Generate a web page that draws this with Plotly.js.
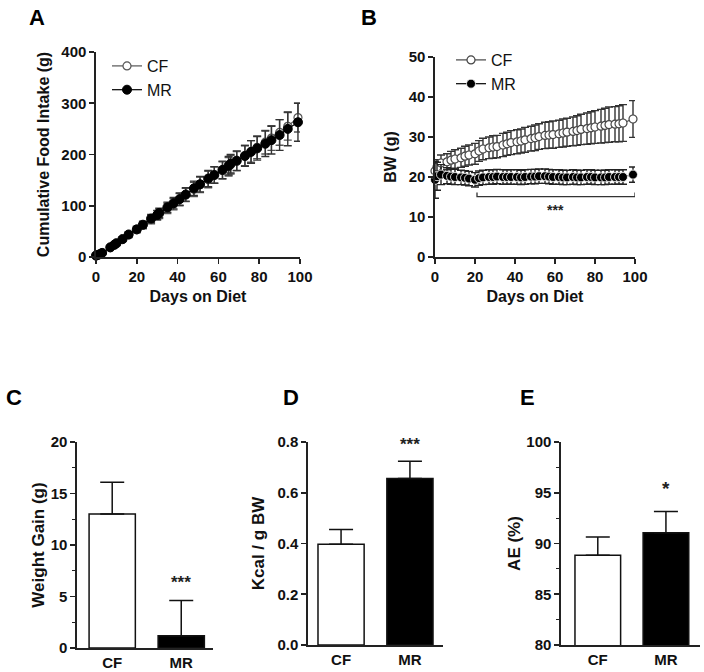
<!DOCTYPE html>
<html>
<head>
<meta charset="utf-8">
<script src="https://cdn.plot.ly/plotly-3.0.1.min.js"></script>
<style>html,body{margin:0;padding:0;background:#fff;}#chart{width:704px;height:672px;}</style>
</head>
<body>
<div id="chart"></div>
<script>
// ---------- Panel A: cumulative food intake ----------
const daysA = [0,1,2,3,7,9,10,13,16,20,23,27,30,31,35,38,41,44,48,51,55,58,62,65,66,69,73,76,79,83,86,90,94,99];
const intakeCF = [2,4,5,8,18,23,26,34,43,53,62,73,81,84,95,103,112,121,132,141,151,160,169,176,180,187,198,206,214,224,232,243,255,272];
const intakeCFsd = [1,1,1,2,3,3,4,4,5,6,7,8,9,9,10,11,12,13,14,15,16,16,17,18,18,19,20,21,22,23,24,25,27,28];
const intakeMR = [3,4,6,8,19,24,27,35,44,54,63,75,82,86,97,105,113,122,134,142,153,160,170,178,182,188,197,205,212,221,228,238,250,263];
const intakeMRsd = [1,1,1,2,3,3,4,4,5,6,7,8,9,9,10,11,12,13,14,15,16,16,17,18,18,19,20,22,23,25,27,30,33,37];

// ---------- Panel B: body weight ----------
const daysB = [0,1,3,6,8,10,13,15,17,20,22,24,27,29,31,34,36,38,41,43,45,48,50,52,55,57,59,62,64,66,69,71,73,76,78,80,83,85,87,90,92,94,99];
const bwCF = [21.5,22.5,23.5,23.8,24.2,24.5,24.8,25.2,25.5,25.8,26.5,27.0,27.3,27.5,27.6,28.0,28.3,28.6,28.8,29.0,29.3,29.6,29.8,30.1,30.4,30.5,30.6,30.8,31.0,31.2,31.4,31.6,31.9,32.1,32.3,32.5,32.7,32.9,33.1,33.2,33.3,33.5,34.5];
const bwCFsd = [1.5,1.8,2.0,2.0,2.2,2.3,2.4,2.5,2.5,2.6,2.6,2.7,2.7,2.8,2.8,2.9,2.9,3.0,3.0,3.0,3.1,3.1,3.2,3.2,3.3,3.3,3.4,3.4,3.5,3.5,3.6,3.7,3.8,3.9,4.0,4.1,4.2,4.3,4.4,4.4,4.5,4.6,4.6];
const bwMR = [19.3,20.2,20.6,20.3,20.1,20.0,19.9,19.8,19.6,19.3,19.7,19.9,20.0,20.0,20.1,20.0,20.0,20.0,20.0,19.9,20.0,20.1,20.1,20.2,20.2,20.1,20.0,20.0,19.9,19.9,20.0,19.9,19.9,20.0,20.0,19.9,19.9,19.9,20.0,20.0,20.0,20.0,20.6];
const bwMRsd = [4.6,3.5,2.5,2.0,1.9,1.9,1.8,1.8,1.8,1.8,1.8,1.8,1.8,1.8,1.8,1.8,1.8,1.8,1.8,1.8,1.8,1.8,1.8,1.8,1.8,1.8,1.8,1.8,1.8,1.8,1.8,1.8,1.8,1.8,1.8,1.8,1.8,1.8,1.8,1.8,1.8,1.8,1.9];

// ---------- Panels C-E: bars ----------
const groups = ['CF', 'MR'];
const weightGain = [13.0, 1.2];
const weightGainSem = [3.1, 3.4];
const kcalPerBW = [0.397, 0.656];
const kcalPerBWSem = [0.058, 0.068];
const absorptionEff = [88.85, 91.05];
const absorptionEffSem = [1.8, 2.1];

// ---------- helpers ----------
const FONT = 'Arial, "Liberation Sans", Helvetica, sans-serif';
const W = 704, H = 672;
const dx = (a, b) => [a / W, b / W];
const dy = (top, bottom) => [1 - bottom / H, 1 - top / H];
const AXC = '#222';

function axisBase(extra) {
  return Object.assign({
    showline: true, linecolor: AXC, linewidth: 1.6,
    ticks: 'outside', ticklen: 5, tickwidth: 1.6, tickcolor: AXC,
    showgrid: false, zeroline: false,
    tickfont: {family: FONT, size: 15, color: '#111', weight: 'bold'},
    fixedrange: true
  }, extra);
}
function axTitle(t, size, standoff) {
  return {text: t, font: {family: FONT, size: size, color: '#111', weight: 'bold'}, standoff: standoff};
}
function errBar(arr, color) {
  return {type: 'data', array: arr, visible: true, color: color, thickness: 1.4, width: 4};
}

const traces = [
  {x: daysA, y: intakeCF, xaxis: 'x', yaxis: 'y', name: 'CF', legend: 'legend',
   mode: 'lines+markers', line: {color: '#555', width: 1.2},
   marker: {symbol: 'circle', size: 8, color: '#fff', line: {color: '#555', width: 1.2}},
   error_y: errBar(intakeCFsd, '#555'), cliponaxis: false},
  {x: daysA, y: intakeMR, xaxis: 'x', yaxis: 'y', name: 'MR', legend: 'legend',
   mode: 'lines+markers', line: {color: '#000', width: 1.2},
   marker: {symbol: 'circle', size: 9, color: '#000', line: {color: '#000', width: 1}},
   error_y: errBar(intakeMRsd, '#333'), cliponaxis: false},
  {x: daysB, y: bwCF, xaxis: 'x2', yaxis: 'y2', name: 'CF', legend: 'legend2',
   mode: 'lines+markers', line: {color: '#444', width: 1.2},
   marker: {symbol: 'circle', size: 8, color: '#fff', line: {color: '#444', width: 1.2}},
   error_y: errBar(bwCFsd, '#333'), cliponaxis: false},
  {x: daysB, y: bwMR, xaxis: 'x2', yaxis: 'y2', name: 'MR', legend: 'legend2',
   mode: 'lines+markers', line: {color: '#000', width: 1.2},
   marker: {symbol: 'circle', size: 9, color: '#000', line: {color: '#fff', width: 0.8}},
   error_y: errBar(bwMRsd, '#222'), cliponaxis: false},
  {type: 'bar', x: groups, y: weightGain, xaxis: 'x3', yaxis: 'y3', showlegend: false, width: 0.67,
   marker: {color: ['#fff', '#000'], line: {color: '#111', width: 1.5}},
   error_y: {type: 'data', symmetric: false, array: weightGainSem, arrayminus: [0, 0], color: '#111', thickness: 1.5, width: 12}},
  {type: 'bar', x: groups, y: kcalPerBW, xaxis: 'x4', yaxis: 'y4', showlegend: false, width: 0.67,
   marker: {color: ['#fff', '#000'], line: {color: '#111', width: 1.5}},
   error_y: {type: 'data', symmetric: false, array: kcalPerBWSem, arrayminus: [0, 0], color: '#111', thickness: 1.5, width: 12}},
  {type: 'bar', x: groups, y: absorptionEff, xaxis: 'x5', yaxis: 'y5', showlegend: false, width: 0.67,
   base: 0,
   marker: {color: ['#fff', '#000'], line: {color: '#111', width: 1.5}},
   error_y: {type: 'data', symmetric: false, array: absorptionEffSem, arrayminus: [0, 0], color: '#111', thickness: 1.5, width: 12}}
];

const legendStyle = {
  font: {family: FONT, size: 16, color: '#111'},
  bgcolor: 'rgba(0,0,0,0)', borderwidth: 0,
  xanchor: 'left', yanchor: 'top', tracegroupgap: 0, itemclick: false
};

const catTick = {family: FONT, size: 15, color: '#111', weight: 'bold'};

const layout = {
  width: W, height: H,
  margin: {l: 0, r: 0, t: 0, b: 0},
  paper_bgcolor: '#fff', plot_bgcolor: '#fff',
  font: {family: FONT},
  showlegend: true,
  legend: Object.assign({x: 107 / W, y: 1 - 49 / H}, legendStyle),
  legend2: Object.assign({x: 451 / W, y: 1 - 43 / H}, legendStyle),
  xaxis: axisBase({domain: dx(96, 300), anchor: 'y', range: [0, 100], dtick: 20,
    title: axTitle('Days on Diet', 16, 7)}),
  yaxis: axisBase({domain: dy(52, 257), anchor: 'x', range: [0, 400], dtick: 100,
    title: axTitle('Cumulative Food Intake (g)', 16, 8)}),
  xaxis2: axisBase({domain: dx(435, 635), anchor: 'y2', range: [0, 100], dtick: 20,
    title: axTitle('Days on Diet', 16, 7)}),
  yaxis2: axisBase({domain: dy(57, 257), anchor: 'x2', range: [0, 50], dtick: 10,
    title: axTitle('BW (g)', 16, 8)}),
  xaxis3: axisBase({domain: dx(77, 213), anchor: 'y3', type: 'category', range: [-0.51, 1.46],
    ticks: '', tickfont: catTick}),
  yaxis3: axisBase({domain: dy(442, 648), anchor: 'x3', range: [0, 20], dtick: 5,
    minor: {dtick: 2.5, ticks: 'outside', ticklen: 3, tickwidth: 1.2, tickcolor: AXC},
    title: axTitle('Weight Gain (g)', 17, 2)}),
  xaxis4: axisBase({domain: dx(308, 443), anchor: 'y4', type: 'category', range: [-0.48, 1.48],
    ticks: '', tickfont: catTick}),
  yaxis4: axisBase({domain: dy(442, 645), anchor: 'x4', range: [0, 0.8], dtick: 0.2, tickformat: '.1f',
    title: axTitle('Kcal / g BW', 17, 8)}),
  xaxis5: axisBase({domain: dx(561, 700), anchor: 'y5', type: 'category', range: [-0.54, 1.5],
    ticks: '', tickfont: catTick}),
  yaxis5: axisBase({domain: dy(442, 645), anchor: 'x5', range: [80, 100], dtick: 5,
    minor: {dtick: 2.5, ticks: 'outside', ticklen: 3, tickwidth: 1.2, tickcolor: AXC},
    title: axTitle('AE (%)', 17, 1)}),
  shapes: [
    {type: 'path', xref: 'x2', yref: 'y2', path: 'M21,16.1 L21,15.1 L100,15.1 L100,16.1',
     line: {color: '#333', width: 1.3}}
  ],
  annotations: [
    {text: 'A', x: 27 / W, y: 1 - 3 / H, xref: 'paper', yref: 'paper', xanchor: 'left', yanchor: 'top', showarrow: false,
     font: {family: FONT, size: 22, color: '#000', weight: 'bold'}},
    {text: 'B', x: 359 / W, y: 1 - 3 / H, xref: 'paper', yref: 'paper', xanchor: 'left', yanchor: 'top', showarrow: false,
     font: {family: FONT, size: 22, color: '#000', weight: 'bold'}},
    {text: 'C', x: 4 / W, y: 1 - 383 / H, xref: 'paper', yref: 'paper', xanchor: 'left', yanchor: 'top', showarrow: false,
     font: {family: FONT, size: 22, color: '#000', weight: 'bold'}},
    {text: 'D', x: 281 / W, y: 1 - 383 / H, xref: 'paper', yref: 'paper', xanchor: 'left', yanchor: 'top', showarrow: false,
     font: {family: FONT, size: 22, color: '#000', weight: 'bold'}},
    {text: 'E', x: 518 / W, y: 1 - 383 / H, xref: 'paper', yref: 'paper', xanchor: 'left', yanchor: 'top', showarrow: false,
     font: {family: FONT, size: 22, color: '#000', weight: 'bold'}},
    {text: '***', x: 60, y: 11.8, xref: 'x2', yref: 'y2', showarrow: false,
     font: {family: FONT, size: 14, color: '#222', weight: 'bold'}},
    {text: '***', x: 1, y: 6.4, xref: 'x3', yref: 'y3', showarrow: false,
     font: {family: FONT, size: 17, color: '#222', weight: 'bold'}},
    {text: '***', x: 1, y: 0.79, xref: 'x4', yref: 'y4', showarrow: false,
     font: {family: FONT, size: 17, color: '#222', weight: 'bold'}},
    {text: '*', x: 1, y: 95.4, xref: 'x5', yref: 'y5', showarrow: false,
     font: {family: FONT, size: 19, color: '#222', weight: 'bold'}}
  ]
};

Plotly.newPlot('chart', traces, layout, {staticPlot: true, displayModeBar: false});
</script>
</body>
</html>
